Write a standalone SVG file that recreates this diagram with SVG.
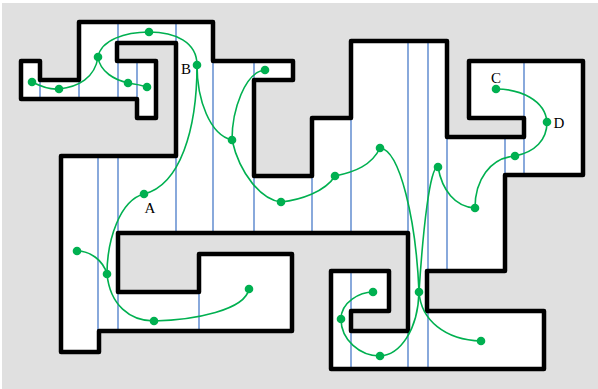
<svg xmlns="http://www.w3.org/2000/svg" width="598" height="389" viewBox="0 0 598 389">
<style>
.bg{fill:#e0e0e0}
.free{fill:#ffffff;stroke:none}
.wall{fill:none;stroke:#000;stroke-width:4.5;stroke-linejoin:round}
.cell{stroke:#4a7cc9;stroke-width:1.3;fill:none}
.edge{stroke:#00b050;stroke-width:1.6;fill:none}
.node{fill:#00b050}
.lbl{font-family:"Liberation Serif","Times New Roman",serif;font-size:15px;fill:#000}
</style>
<rect x="0" y="0" width="598" height="389" fill="#fff"/>
<rect class="bg" x="2" y="3" width="596" height="386"/>
<g id="space">
<path class="free" d="M21,61 H40 V80 H79 V22 H213 V61 H293 V80 H254 V176 H312 V118 H351 V41 H447 V137 H524 V118 H469 V61 H583 V175 H505 V271 H427 V311 H544 V369 H331 V271 H389 V311 H351 V331 H408 V233 H118 V292 H199 V254 H292 V331 H99 V352 H61 V156 H176 V43 H117 V61 H156 V118 H137 V99 H21 Z"/>
</g>
<g id="cells">
<path class="cell" d="M40,80V99 M79,80V99 M98,156V331 M118,22V43 M118,61V99 M118,156V233 M118,292V331 M137,61V99 M176,22V43 M176,156V233 M199,292V331 M213,61V233 M254,61V80 M254,176V233 M312,176V233 M351,118V233 M351,271V369 M408,41V369 M428,41V271 M428,311V369 M447,137V271 M505,137V175 M524,61V118 M524,137V175"/>
</g>
<g id="walls">
<path class="wall" d="M21,61 H40 V80 H79 V22 H213 V61 H293 V80 H254 V176 H312 V118 H351 V41 H447 V137 H524 V118 H469 V61 H583 V175 H505 V271 H427 V311 H544 V369 H331 V271 H389 V311 H351 V331 H408 V233 H118 V292 H199 V254 H292 V331 H99 V352 H61 V156 H176 V43 H117 V61 H156 V118 H137 V99 H21 Z"/>
</g>
<g id="connectors">
<path class="edge" d="M32,82 C40,86 50,90 59,89"/>
<path class="edge" d="M59,89 C78,87 95,78 98,57"/>
<path class="edge" d="M98,57 C101,40 125,32 149,32"/>
<path class="edge" d="M149,32 C175,32 197,42 197,65"/>
<path class="edge" d="M98,57 C100,72 115,80 128,83"/>
<path class="edge" d="M128,83 C135,84 141,85 147,87"/>
<path class="edge" d="M197,65 C197,100 210,135 232,140"/>
<path class="edge" d="M197,65 C197,130 180,185 144,194"/>
<path class="edge" d="M232,140 C232,110 245,72 265,70"/>
<path class="edge" d="M232,140 C240,175 262,200 281,202"/>
<path class="edge" d="M281,202 C300,200 325,192 335,176"/>
<path class="edge" d="M335,176 C355,172 372,165 380,148"/>
<path class="edge" d="M380,148 C400,150 416,220 419,292"/>
<path class="edge" d="M438,167 C430,165 423,230 419,292"/>
<path class="edge" d="M438,167 C442,190 455,207 475,208"/>
<path class="edge" d="M475,208 C475,180 490,158 515,156"/>
<path class="edge" d="M515,156 C535,152 547,140 547,122"/>
<path class="edge" d="M547,122 C545,100 520,89 496,89"/>
<path class="edge" d="M419,292 C418,330 400,355 380,356"/>
<path class="edge" d="M380,356 C360,356 341,340 341,319"/>
<path class="edge" d="M341,319 C341,302 360,292 373,292"/>
<path class="edge" d="M419,292 C421,320 445,340 481,341"/>
<path class="edge" d="M77,251 C90,251 103,260 107,274"/>
<path class="edge" d="M144,194 C120,200 107,240 107,274"/>
<path class="edge" d="M107,274 C110,305 130,321 154,321"/>
<path class="edge" d="M154,321 C195,320 245,310 249,289"/>
</g>
<g id="n1"><circle class="node" cx="32" cy="82" r="4.3"/></g>
<g id="n2"><circle class="node" cx="59" cy="89" r="4.3"/></g>
<g id="n3"><circle class="node" cx="98" cy="57" r="4.3"/></g>
<g id="n4"><circle class="node" cx="149" cy="32" r="4.3"/></g>
<g id="n5"><circle class="node" cx="128" cy="83" r="4.3"/></g>
<g id="n6"><circle class="node" cx="147" cy="87" r="4.3"/></g>
<g id="nB"><circle class="node" cx="197" cy="65" r="4.3"/><text class="lbl" x="186" y="74" text-anchor="middle">B</text></g>
<g id="n8"><circle class="node" cx="232" cy="140" r="4.3"/></g>
<g id="n9"><circle class="node" cx="265" cy="70" r="4.3"/></g>
<g id="nA"><circle class="node" cx="144" cy="194" r="4.3"/><text class="lbl" x="150" y="213" text-anchor="middle">A</text></g>
<g id="n11"><circle class="node" cx="281" cy="202" r="4.3"/></g>
<g id="n12"><circle class="node" cx="335" cy="176" r="4.3"/></g>
<g id="n13"><circle class="node" cx="380" cy="148" r="4.3"/></g>
<g id="n14"><circle class="node" cx="438" cy="167" r="4.3"/></g>
<g id="n15"><circle class="node" cx="475" cy="208" r="4.3"/></g>
<g id="n16"><circle class="node" cx="515" cy="156" r="4.3"/></g>
<g id="nD"><circle class="node" cx="547" cy="122" r="4.3"/><text class="lbl" x="559" y="128" text-anchor="middle">D</text></g>
<g id="nC"><circle class="node" cx="496" cy="89" r="4.3"/><text class="lbl" x="496" y="83" text-anchor="middle">C</text></g>
<g id="n19"><circle class="node" cx="419" cy="292" r="4.3"/></g>
<g id="n20"><circle class="node" cx="380" cy="356" r="4.3"/></g>
<g id="n21"><circle class="node" cx="341" cy="319" r="4.3"/></g>
<g id="n22"><circle class="node" cx="373" cy="292" r="4.3"/></g>
<g id="n23"><circle class="node" cx="481" cy="341" r="4.3"/></g>
<g id="n24"><circle class="node" cx="77" cy="251" r="4.3"/></g>
<g id="n25"><circle class="node" cx="107" cy="274" r="4.3"/></g>
<g id="n26"><circle class="node" cx="154" cy="321" r="4.3"/></g>
<g id="n27"><circle class="node" cx="249" cy="289" r="4.3"/></g>
</svg>
